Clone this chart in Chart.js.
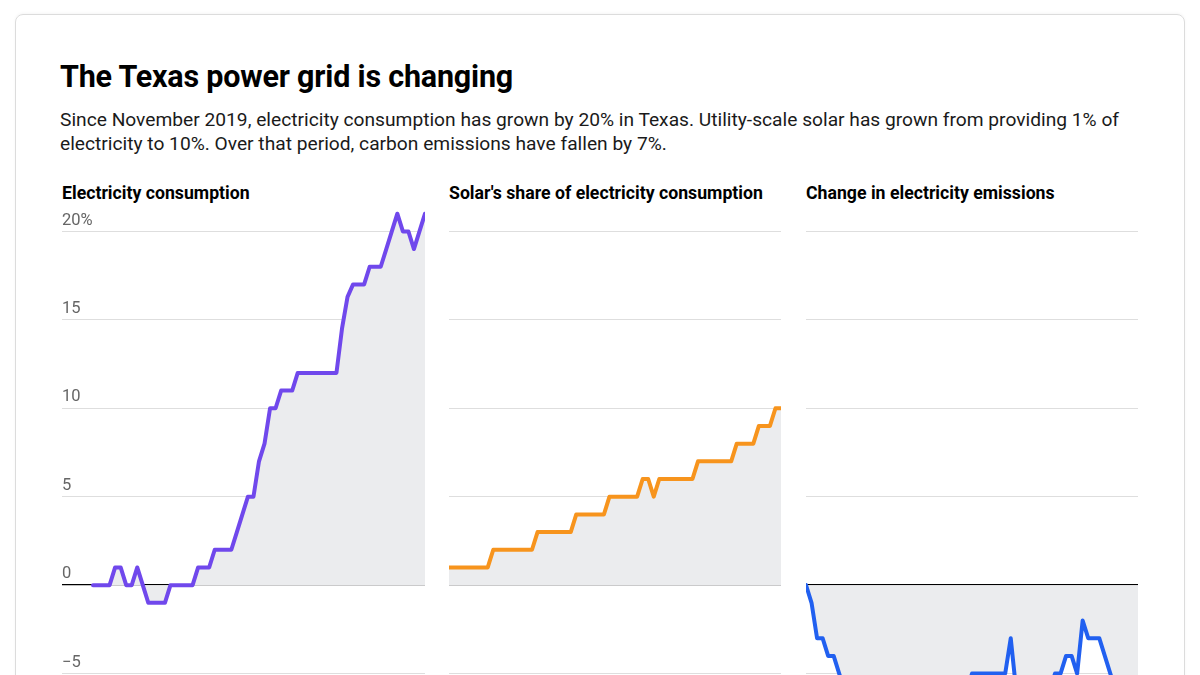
<!DOCTYPE html>
<html>
<head>
<meta charset="utf-8">
<script src="https://cdn.jsdelivr.net/npm/chart.js@4.4.1/dist/chart.umd.min.js"></script>
<style>
  html, body { margin: 0; padding: 0; background: #fff; width: 1200px; height: 675px; overflow: hidden; }
  body { font-family: Roboto, "Noto Sans", sans-serif; position: relative; }
  .card { position: absolute; left: 15px; top: 14px; width: 1168px; height: 900px; border: 1px solid #dcdcdc; border-radius: 8px; box-shadow: 0 -1px 3px rgba(0,0,0,0.04); }
  h1 { position: absolute; left: 60px; top: 59px; margin: 0; font-size: 30.5px; font-weight: 700; color: #000; letter-spacing: -0.2px; }
  .sub { position: absolute; left: 60px; top: 108px; width: 1090px; margin: 0; font-size: 19.2px; line-height: 24px; color: #1a1a1a; }
  .ptitle { position: absolute; top: 183px; font-size: 17.7px; font-weight: 700; color: #000; }
  .wrap { position: absolute; top: 196px; height: 566px; }
</style>
</head>
<body>
<div class="card"></div>
<h1>The Texas power grid is changing</h1>
<p class="sub">Since November 2019, electricity consumption has grown by 20% in Texas. Utility-scale solar has grown from providing 1% of electricity to 10%. Over that period, carbon emissions have fallen by 7%.</p>

<div class="ptitle" style="left:62px">Electricity consumption</div>
<div class="ptitle" style="left:449px">Solar's share of electricity consumption</div>
<div class="ptitle" style="left:806px">Change in electricity emissions</div>

<div class="wrap" style="left:62px;width:363px"><canvas id="c1"></canvas></div>
<div class="wrap" style="left:449px;width:332px"><canvas id="c2"></canvas></div>
<div class="wrap" style="left:806px;width:332px"><canvas id="c3"></canvas></div>

<script>
// months Nov 2019 .. Nov 2024
const monthNames = ['Jan','Feb','Mar','Apr','May','Jun','Jul','Aug','Sep','Oct','Nov','Dec'];
const months = [];
for (let y = 2019, m = 10; months.length < 61; m++) {
    if (m > 11) { m = 0; y++; }
    months.push(monthNames[m] + ' ' + y);
}

// % change in consumption since Nov 2019
const consumption = [0, 0, 0, 0, 1, 1, 0, 0, 1, 0,
    -1, -1, -1, -1, 0, 0, 0, 0, 0, 1,
    1, 1, 2, 2, 2, 2, 3, 4, 5, 5,
    7, 8, 10, 10, 11, 11, 11, 12, 12, 12,
    12, 12, 12, 12, 12, 14.5, 16.3, 17, 17, 17,
    18, 18, 18, 19, 20, 21, 20, 20, 19, 20, 21];

// solar share of consumption, %
const solarShare = [1, 1, 1, 1, 1, 1, 1, 1, 2, 2,
    2, 2, 2, 2, 2, 2, 3, 3, 3, 3,
    3, 3, 3, 4, 4, 4, 4, 4, 4, 5,
    5, 5, 5, 5, 5, 6, 6, 5, 6, 6,
    6, 6, 6, 6, 6, 7, 7, 7, 7, 7,
    7, 7, 8, 8, 8, 8, 9, 9, 9, 10, 10];

// % change in emissions since Nov 2019
const emissions = [0, -1, -3, -3, -4, -4, -5, -6, -7, -8,
    -8, -9, -9, -9, -8, -8, -8, -8, -7, -7,
    -7, -7, -6, -6, -6, -6, -6, -6, -6, -6,
    -5, -5, -5, -5, -5, -5, -5, -3, -6, -7,
    -7, -7, -6, -6, -6, -5, -5, -4, -4, -5,
    -2, -3, -3, -3, -4, -5, -6, -6, -7, -7, -7];

const yTicks = [-10, -5, 0, 5, 10, 15, 20];

function tickText(v) {
    if (v === 20) return '20%';
    if (v < 0) return '\u2212' + Math.abs(v);
    return String(v);
}

function makeChart(id, values, color, withLabels, xMin) {
    const pts = values.map((v, i) => ({ x: i, y: v }));
    return new Chart(document.getElementById(id), {
        type: 'line',
        data: {
            labels: months,
            datasets: [{
                data: pts,
                borderColor: color,
                borderWidth: 4,
                backgroundColor: '#ebecee',
                fill: 'origin',
                pointRadius: 0,
                tension: 0,
                borderJoinStyle: 'round',
                borderCapStyle: 'round'
            }]
        },
        options: {
            responsive: true,
            maintainAspectRatio: false,
            animation: false,
            layout: { padding: 0 },
            plugins: { legend: { display: false }, tooltip: { enabled: false } },
            scales: {
                x: { type: 'linear', min: xMin, max: 60, display: false },
                y: {
                    min: -10,
                    max: 22,
                    afterBuildTicks: s => { s.ticks = yTicks.map(v => ({ value: v })); },
                    afterFit: s => { s.width = 0; s.paddingTop = 0; s.paddingBottom = 0; },
                    border: { display: false },
                    grid: {
                        drawTicks: false,
                        color: c => c.tick && c.tick.value === 0 ? '#000' : '#dedede',
                        lineWidth: c => c.tick && c.tick.value === 0 ? 1.3 : 1
                    },
                    ticks: {
                        display: withLabels,
                        mirror: true,
                        padding: 0,
                        labelOffset: -11,
                        color: '#666',
                        font: { family: 'Roboto', size: 16.5 },
                        callback: v => tickText(v)
                    }
                }
            }
        }
    });
}

makeChart('c1', consumption, '#7048ec', true, -5.6);
makeChart('c2', solarShare, '#f7941d', false, 0);
makeChart('c3', emissions, '#2160f0', false, 0);
</script>
</body>
</html>
